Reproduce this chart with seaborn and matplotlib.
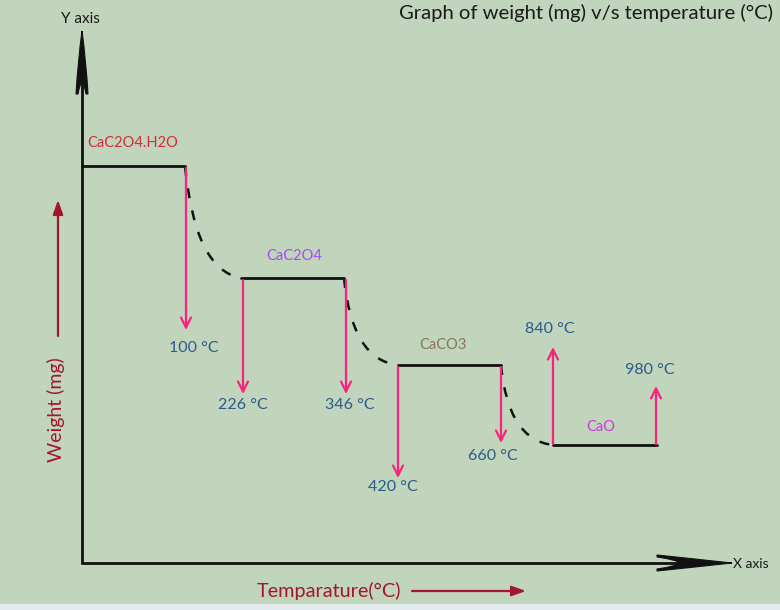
import numpy as np
import pandas as pd
import matplotlib
matplotlib.use("Agg")
import matplotlib.pyplot as plt
import seaborn as sns
from matplotlib.path import Path
from matplotlib.patches import PathPatch, Rectangle

# ---------------- data (schematic diagram units) ----------------
phases = ["CaC2O4.H2O", "CaC2O4", "CaCO3", "CaO"]
phase_colors = ["#D8283E", "#A64BF4", "#8A7458", "#D535D8"]
plateau_start = [82, 241, 398, 553]
plateau_end = [185, 344, 501, 657]
plateau_level = [166, 278, 365, 445]

temp_labels = ["100 \u00b0C", "226 \u00b0C", "346 \u00b0C", "420 \u00b0C",
               "660 \u00b0C", "840 \u00b0C", "980 \u00b0C"]
arrow_x = [186, 243, 346, 398, 501, 553, 656]
arrow_from = [168, 280, 280, 367, 367, 444, 444]
arrow_to = [330, 394, 394, 478, 443, 347, 386]

# decomposition curves: bend points between plateaus
curve_ctrl_x = [195, 352, 508]
curve_ctrl_y = [270, 360, 440]

# ---------------- style ----------------
sns.set_theme(style="white")
plt.rcParams["font.family"] = ["Lato", "DejaVu Sans"]
BG = "#C0D5BB"
PINK = "#F8237D"
DARKRED = "#A3172C"
BLUE = "#2C5A8C"

fig = plt.figure(figsize=(7.8, 6.1), dpi=100)
fig.patch.set_facecolor(BG)
ax = fig.add_axes([0, 0, 1, 1])
ax.set_facecolor(BG)

# plateaus via seaborn
rows = []
for i, p in enumerate(phases):
    rows.append({"phase": p, "x": plateau_start[i], "y": plateau_level[i]})
    rows.append({"phase": p, "x": plateau_end[i], "y": plateau_level[i]})
df = pd.DataFrame(rows)
sns.lineplot(data=df, x="x", y="y", units="phase", estimator=None,
             color="#111111", lw=2.0, ax=ax, sort=False, zorder=3)
ax.set_xlim(0, 780)
ax.set_ylim(610, 0)
ax.axis("off")

# bottom strip
ax.add_patch(Rectangle((0, 604), 780, 6, color="#E2EAEE", lw=0, zorder=0))

# dashed decomposition curves
for i in range(3):
    verts = [(plateau_end[i], plateau_level[i]),
             (curve_ctrl_x[i], curve_ctrl_y[i]),
             (plateau_start[i + 1], plateau_level[i + 1])]
    path = Path(verts, [Path.MOVETO, Path.CURVE3, Path.CURVE3])
    ax.add_patch(PathPatch(path, fill=False, ec="#111111", lw=1.8,
                           ls=(0, (4, 5)), zorder=3))

# phase labels
label_pos = [(133, 143), (294, 256), (443, 345), (601, 427)]
for (lx, ly), p, c in zip(label_pos, phases, phase_colors):
    ax.text(lx, ly, p, color=c, fontsize=10.5, ha="center", va="center")

# temperature arrows
label_off = [(194, 348), (243, 405), (350, 405), (393, 487),
             (493, 456), (550, 329), (650, 370)]
for x, y0, y1, t, (tx, ty) in zip(arrow_x, arrow_from, arrow_to, temp_labels, label_off):
    ax.annotate("", xy=(x, y1), xytext=(x, y0),
                arrowprops=dict(arrowstyle="->,head_length=0.6,head_width=0.3",
                                color=PINK, lw=1.6, shrinkA=0, shrinkB=0), zorder=4)
    ax.text(tx, ty, t, color=BLUE, fontsize=11.5, ha="center", va="center")

# axes lines
ax.plot([82, 82], [563, 60], color="#111111", lw=2.0, zorder=5)
ax.plot([82, 700], [563, 563], color="#111111", lw=2.0, zorder=5)

# y-axis arrowhead (concave)
yh = Path([(82, 31), (86, 60), (88, 94), (86, 94), (82, 72), (78, 94), (76, 94), (78, 60), (82, 31)],
          [Path.MOVETO, Path.CURVE3, Path.CURVE3, Path.LINETO, Path.CURVE3, Path.CURVE3,
           Path.LINETO, Path.CURVE3, Path.CURVE3])
ax.add_patch(PathPatch(yh, fc="#111111", ec="#111111", lw=0.8, zorder=6))
# x-axis arrowhead (concave)
xh = Path([(732, 563), (695, 559), (657, 555), (657, 557), (700, 563), (657, 569), (657, 571), (695, 567), (732, 563)],
          [Path.MOVETO, Path.CURVE3, Path.CURVE3, Path.LINETO, Path.CURVE3, Path.CURVE3,
           Path.LINETO, Path.CURVE3, Path.CURVE3])
ax.add_patch(PathPatch(xh, fc="#111111", ec="#111111", lw=0.8, zorder=6))

ax.text(80, 19, "Y axis", color="#1a1a1a", fontsize=11, ha="center", va="center")
ax.text(733, 564, "X axis", color="#1a1a1a", fontsize=10, ha="left", va="center")

# title
ax.text(773, 13, "Graph of weight (mg) v/s temperature (\u00b0C)", color="#1a1a1a",
        fontsize=14.6, ha="right", va="center")

# axis descriptions
ax.text(56, 410, "Weight (mg)", color=DARKRED, fontsize=14, rotation=90,
        ha="center", va="center")
ax.annotate("", xy=(58, 200), xytext=(58, 336),
            arrowprops=dict(arrowstyle="-|>,head_length=0.7,head_width=0.25",
                            color=DARKRED, lw=1.6, shrinkA=0, shrinkB=0))
ax.text(329, 591, "Temparature(\u00b0C)", color=DARKRED, fontsize=14.3,
        ha="center", va="center")
ax.annotate("", xy=(526, 591), xytext=(412, 591),
            arrowprops=dict(arrowstyle="-|>,head_length=0.7,head_width=0.25",
                            color=DARKRED, lw=1.6, shrinkA=0, shrinkB=0))

fig.savefig("out.png", dpi=100, facecolor=BG)
